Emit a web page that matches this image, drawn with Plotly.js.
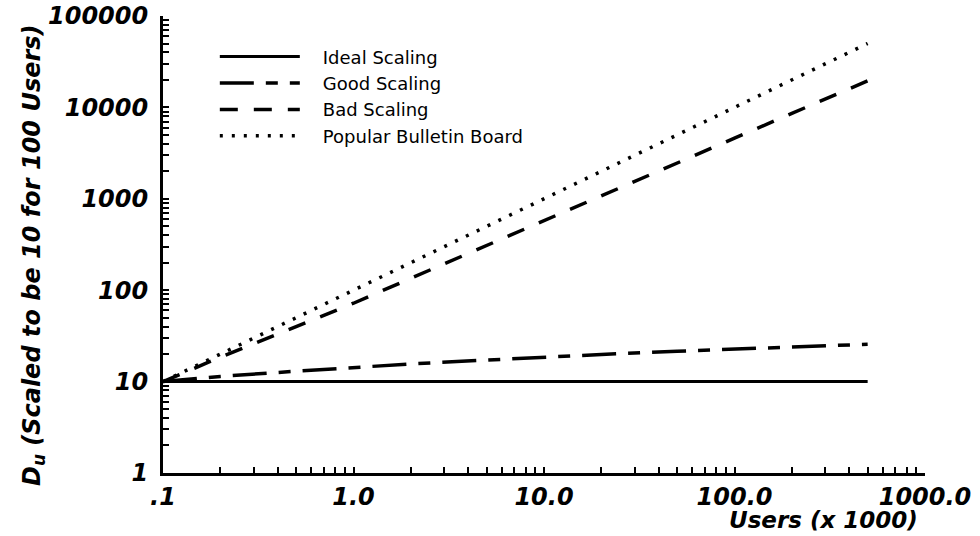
<!DOCTYPE html>
<html>
<head>
<meta charset="utf-8">
<script src="https://cdn.plot.ly/plotly-3.0.1.min.js"></script>
<style>
  html, body { margin: 0; padding: 0; background: #fff; }
  #chart { width: 980px; height: 536px; }
</style>
</head>
<body>
<div id="chart"></div>
<script>
// Number of users, in thousands
const users = [0.1, 0.2, 0.5, 1, 2, 5, 10, 20, 50, 100, 200, 500];

// D_u, scaled so that 100 users gives 10
const idealScaling = [10, 10, 10, 10, 10, 10, 10, 10, 10, 10, 10, 10];
const goodScaling  = [10, 11.4, 13.0, 14.3, 15.6, 17.2, 18.6, 19.8, 21.5, 22.8, 24.1, 25.6];
const badScaling   = [10, 18.5, 40, 72, 135, 310, 570, 1080, 2500, 4600, 8600, 19500];
const popularBoard = [10, 20, 50, 100, 200, 500, 1000, 2000, 5000, 10000, 20000, 50000];

const seriesNames = ['Ideal Scaling', 'Good Scaling', 'Bad Scaling', 'Popular Bulletin Board'];

const xTickVals = [0.1, 1, 10, 100, 1000];
const xTickText = ['.1', '1.0', '10.0', '100.0', '1000.0'];
const yTickVals = [1, 10, 100, 1000, 10000, 100000];
const yTickText = ['1', '10', '100', '1000', '10000', '100000'];

const xTitle = 'Users (x 1000)';
const yTitle = 'D<sub>u</sub> (Scaled to be 10 for 100 Users)';

const ink = '#000';
const boldItalic = { family: 'DejaVu Sans', size: 23, weight: 'bold', style: 'italic', color: ink };
const tickLabelFont = Object.assign({}, boldItalic, { size: 24 });

// legend text sits a little away from its line sample
const legendGap = '\u2003';

function series(y, name, dash, width) {
  return {
    x: users, y: y, name: legendGap + name, type: 'scatter', mode: 'lines',
    line: { color: ink, width: width, dash: dash },
    hoverinfo: 'skip'
  };
}

const traces = [
  series(idealScaling, seriesNames[0], 'solid', 3),
  series(goodScaling,  seriesNames[1], '34px,12px,12px,12px', 3.5),
  series(badScaling,   seriesNames[2], '18px,16px', 3.5),
  series(popularBoard, seriesNames[3], '3px,9px', 3.5)
];

const minorTicks = { ticks: 'inside', ticklen: 6, tickwidth: 2, tickcolor: ink, dtick: 'D1', showgrid: false };

const layout = {
  width: 980, height: 536,
  margin: { l: 163, r: 55, t: 16, b: 63 },
  paper_bgcolor: '#fff', plot_bgcolor: '#fff',
  showlegend: true,
  legend: {
    x: 0.068, y: 0.951, xanchor: 'left', yanchor: 'top',
    bgcolor: 'rgba(0,0,0,0)', borderwidth: 0,
    font: { family: 'DejaVu Sans', size: 18, color: ink },
    itemwidth: 80, tracegroupgap: 0
  },
  xaxis: {
    type: 'log', range: [-1, 3], fixedrange: true,
    tickmode: 'array', tickvals: xTickVals, ticktext: xTickText,
    ticks: 'inside', ticklen: 6, tickwidth: 2, tickcolor: ink,
    showline: true, linewidth: 3, linecolor: ink,
    showgrid: false, zeroline: false,
    tickfont: tickLabelFont,
    minor: minorTicks
  },
  yaxis: {
    type: 'log', range: [0, 5], fixedrange: true,
    tickmode: 'array', tickvals: yTickVals, ticktext: yTickText,
    ticks: 'inside', ticklen: 6, tickwidth: 2, tickcolor: ink,
    showline: true, linewidth: 3, linecolor: ink,
    showgrid: false, zeroline: false,
    tickfont: tickLabelFont, ticklabelstandoff: 7,
    minor: minorTicks
  },
  annotations: [
    {
      text: yTitle, xref: 'paper', yref: 'paper', x: -0.1706, y: 0.477,
      xanchor: 'center', yanchor: 'middle', textangle: -90, showarrow: false,
      font: { family: 'DejaVu Sans', size: 24, weight: 'bold', style: 'italic', color: ink }
    },
    {
      text: xTitle, xref: 'paper', yref: 'paper', x: 0.9934, y: -0.103,
      xanchor: 'right', yanchor: 'middle', showarrow: false,
      font: boldItalic
    }
  ]
};

Plotly.newPlot('chart', traces, layout, { staticPlot: true, displayModeBar: false });
</script>
</body>
</html>
